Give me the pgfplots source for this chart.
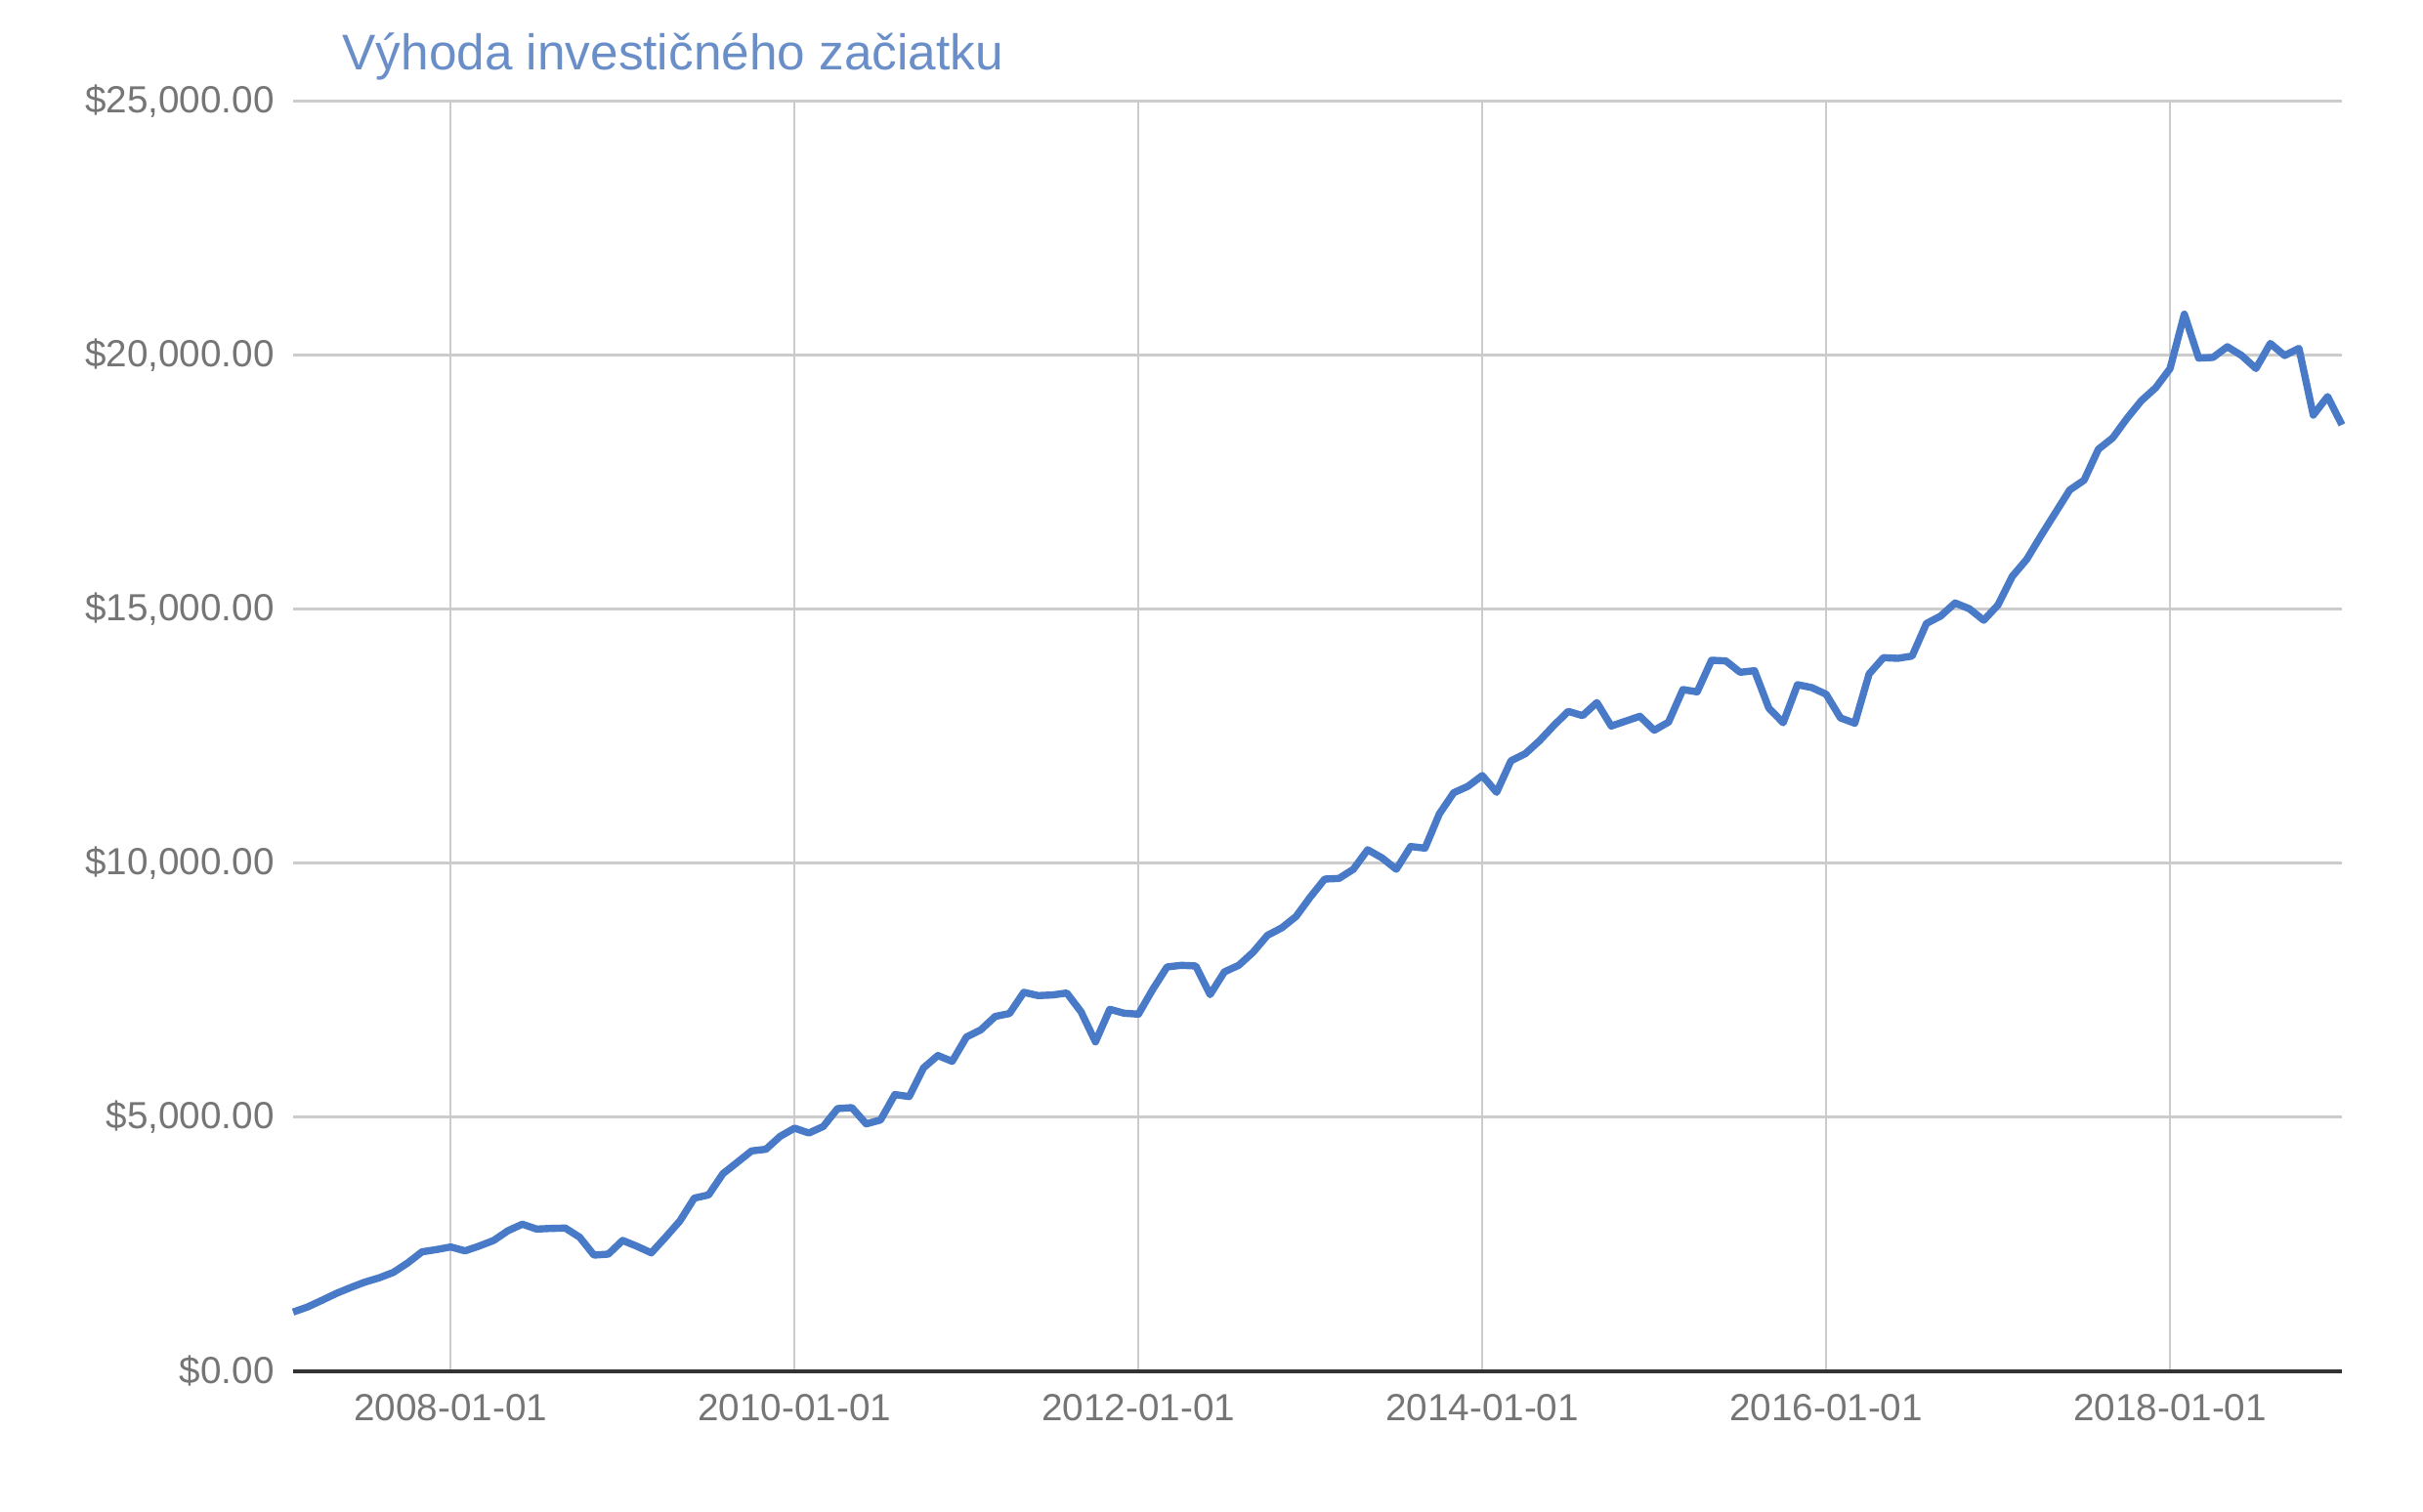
\documentclass[border=0pt]{standalone}
\usepackage{fontspec}
\setmainfont{Liberation Sans}
\usepackage{pgfplots}
\usepackage{pgfplotstable}
\pgfplotsset{compat=1.18}
\definecolor{linecol}{RGB}{72,122,200}
\definecolor{titlecol}{RGB}{106,142,200}
\definecolor{tickcol}{RGB}{117,117,117}
\definecolor{gridcol}{RGB}{204,204,204}
\definecolor{basecol}{RGB}{51,51,51}
\pgfplotstableread{
n v
-11 1167
-10 1266
-9 1397
-8 1532
-7 1648
-6 1756
-5 1840
-4 1949
-3 2135
-2 2353
-1 2397
0 2449
1 2372
2 2468
3 2577
4 2769
5 2897
6 2801
7 2814
8 2820
9 2641
10 2288
11 2308
12 2577
13 2462
14 2333
15 2641
16 2962
17 3410
18 3474
19 3891
20 4115
21 4340
22 4372
23 4628
24 4788
25 4692
26 4821
27 5173
28 5192
29 4872
30 4949
31 5449
32 5410
33 5974
34 6218
35 6103
36 6583
37 6724
38 6987
39 7045
40 7462
41 7398
42 7410
43 7449
44 7077
45 6487
46 7128
47 7051
48 7032
49 7520
50 7962
51 7994
52 7981
53 7417
54 7865
55 7994
56 8250
57 8583
58 8731
59 8955
60 9340
61 9692
62 9705
63 9885
64 10269
65 10109
66 9885
67 10333
68 10301
69 10974
70 11391
71 11519
72 11730
73 11400
74 12020
75 12160
76 12417
77 12718
78 12994
79 12910
80 13167
81 12705
82 12801
83 12897
84 12622
85 12782
86 13423
87 13378
88 14000
89 13987
90 13763
91 13795
92 13058
93 12769
94 13519
95 13462
96 13330
97 12865
98 12760
99 13731
100 14051
101 14038
102 14083
103 14724
104 14872
105 15128
106 15013
107 14788
108 15090
109 15654
110 15987
111 16455
112 16904
113 17352
114 17545
115 18154
116 18378
117 18763
118 19110
119 19365
120 19740
121 20814
122 19949
123 19962
124 20173
125 20000
126 19744
127 20237
128 20000
129 20141
130 18827
131 19192
132 18635
}\datatable
\begin{document}
\begin{tikzpicture}
\useasboundingbox (0,0) rectangle (248mm,154.8mm);
\begin{axis}[
  at={(30mm,14.4mm)}, anchor=south west,
  scale only axis, width=209.7mm, height=130mm,
  xmin=-11, xmax=132, ymin=0, ymax=25000,
  axis line style={draw=none},
  major tick length=0pt,
  scaled y ticks=false, scaled x ticks=false,
  xtick={0,24,48,72,96,120},
  xticklabels={2008-01-01,2010-01-01,2012-01-01,2014-01-01,2016-01-01,2018-01-01},
  ytick={0,5000,10000,15000,20000,25000},
  yticklabels={{\$0.00},{\$5,000.00},{\$10,000.00},{\$15,000.00},{\$20,000.00},{\$25,000.00}},
  xmajorgrids, ymajorgrids,
  x grid style={color=gridcol, line width=0.55pt},
  y grid style={color=gridcol, line width=0.85pt},
  ticklabel style={font=\fontsize{11}{13}\selectfont, text=tickcol},
  yticklabel style={xshift=-0.7mm},
  xticklabel style={yshift=-1.1mm},
  clip=false,
]
\addplot[color=linecol, line width=2.1pt, line join=round, no markers] table[x=n,y=v] {\datatable};
\draw[basecol, line width=1.15pt] (rel axis cs:0,0) -- (rel axis cs:1,0);
\end{axis}
\node[anchor=base west, inner sep=0pt, text=titlecol, font=\fontsize{14.6}{17}\selectfont] at (35.0mm,147.6mm) {Výhoda investičného začiatku};
\end{tikzpicture}
\end{document}
